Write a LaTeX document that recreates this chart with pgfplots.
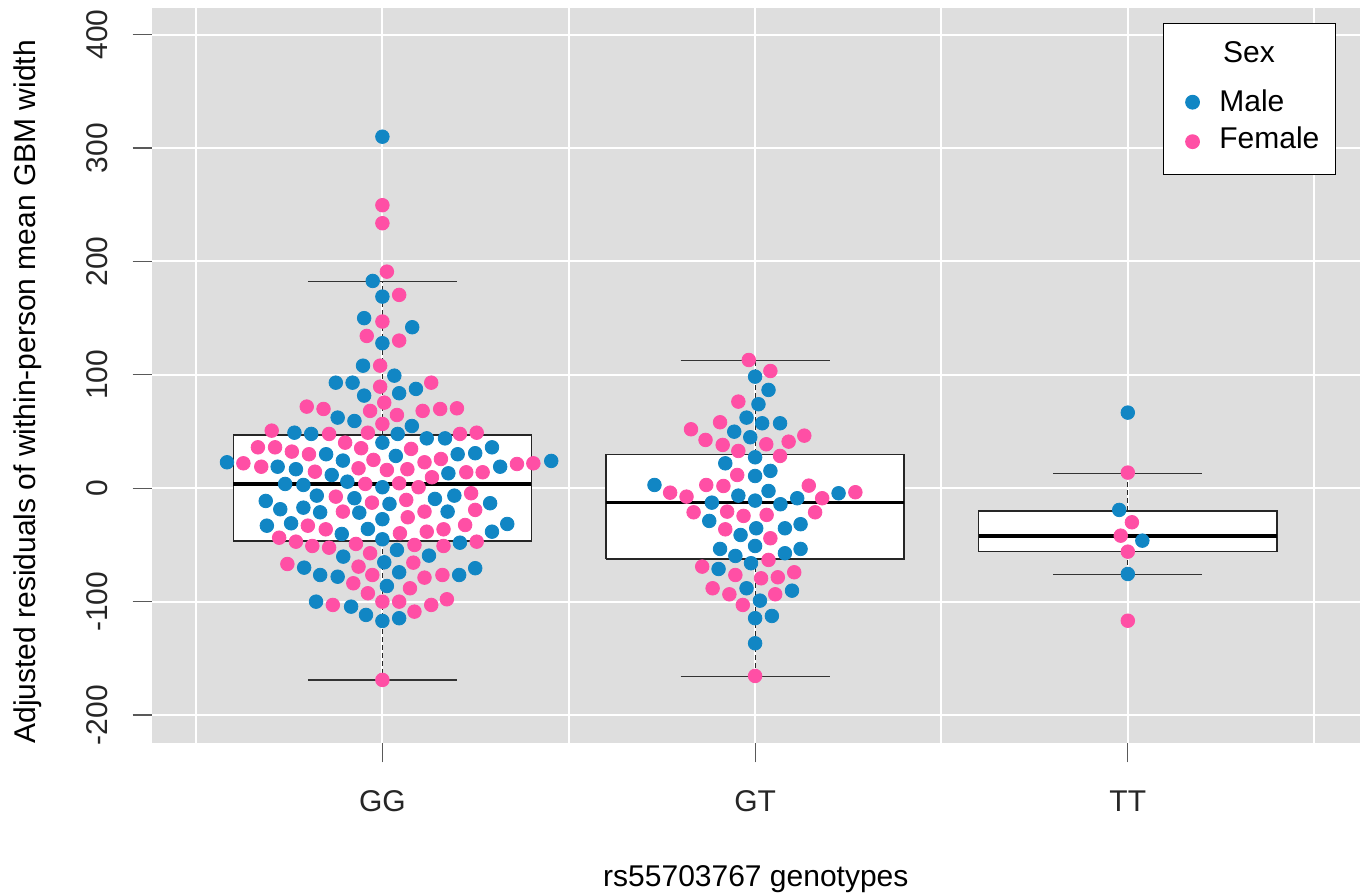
\documentclass[border=0pt]{standalone}
\usepackage{pgfplots}
\pgfplotsset{compat=1.18}
\usepackage{fontspec}
\setmainfont{Liberation Sans}

\definecolor{bggray}{RGB}{222,222,222}
\definecolor{male}{RGB}{17,134,196}
\definecolor{female}{RGB}{255,79,165}

% box plot parts, drawn from the summary values
\pgfplotsset{
  gbox/.style={draw=black!85, line width=0.7pt, fill=white, forget plot},
  gmed/.style={black, line width=1.6pt, forget plot},
  gwhisk/.style={black!85, line width=0.5pt, dash pattern=on 2.5pt off 1.5pt, forget plot},
  gcap/.style={black!80, line width=0.6pt, forget plot},
}

\begin{document}
\begin{tikzpicture}
\path[use as bounding box] (-75.85pt,-75.35pt) rectangle (607.65pt,371.65pt);
\begin{axis}[
  scale only axis,
  width=604.15pt, height=367.65pt,
  xmin=0.381, xmax=3.623,
  ymin=-224.9, ymax=423.5,
  axis background/.style={fill=bggray},
  axis line style={draw=none},
  xtick={1,2,3},
  xticklabels={GG,GT,TT},
  minor xtick={0.5,1.5,2.5,3.5},
  ytick={-200,-100,0,100,200,300,400},
  yticklabels={-200,-100,0,100,200,300,400},
  grid=both,
  major grid style={white, line width=1pt},
  minor grid style={white, line width=1pt},
  tick align=outside,
  tick pos=left,
  major tick length=9.5pt,
  minor tick length=0pt,
  tick style={black!65, line width=0.6pt},
  tick label style={font=\fontsize{15}{18}\selectfont, text=black!85},
  yticklabel style={rotate=90, anchor=base, yshift=12.5pt},
  xticklabel style={yshift=-10.5pt},
  xlabel={rs55703767 genotypes},
  every axis x label/.style={at={(axis description cs:0.5,0)}, anchor=center, yshift=-67.9pt,
    font=\fontsize{15}{18}\selectfont},
  ylabel={Adjusted residuals of within-person mean GBM width},
  every axis y label/.style={at={(axis description cs:-0.1024,0.478)}, rotate=90, anchor=center,
    font=\fontsize{15}{18}\selectfont},
  legend cell align=left,
  legend style={at={(rel axis cs:1,1)}, anchor=north east, xshift=-12pt, yshift=-7.65pt,
    draw=black, line width=0.6pt, fill=white, inner xsep=6pt, inner ysep=7pt,
    row sep=2pt, column sep=8pt, font=\fontsize{15}{18}\selectfont},
]

% GG
\addplot[gbox] coordinates {(0.6,-46.5) (1.4,-46.5) (1.4,47) (0.6,47) (0.6,-46.5)};
\addplot[gwhisk] coordinates {(1,47) (1,182.5)};
\addplot[gwhisk] coordinates {(1,-46.5) (1,-169)};
\addplot[gcap] coordinates {(0.8,182.5) (1.2,182.5)};
\addplot[gcap] coordinates {(0.8,-169) (1.2,-169)};
\addplot[gmed] coordinates {(0.6,3.8) (1.4,3.8)};
% GT
\addplot[gbox] coordinates {(1.6,-62.3) (2.4,-62.3) (2.4,30) (1.6,30) (1.6,-62.3)};
\addplot[gwhisk] coordinates {(2,30) (2,112.5)};
\addplot[gwhisk] coordinates {(2,-62.3) (2,-166)};
\addplot[gcap] coordinates {(1.8,112.5) (2.2,112.5)};
\addplot[gcap] coordinates {(1.8,-166) (2.2,-166)};
\addplot[gmed] coordinates {(1.6,-12.3) (2.4,-12.3)};
% TT
\addplot[gbox] coordinates {(2.6,-55.9) (3.4,-55.9) (3.4,-20) (2.6,-20) (2.6,-55.9)};
\addplot[gwhisk] coordinates {(3,-20) (3,12.9)};
\addplot[gwhisk] coordinates {(3,-55.9) (3,-75.8)};
\addplot[gcap] coordinates {(2.8,12.9) (3.2,12.9)};
\addplot[gcap] coordinates {(2.8,-75.8) (3.2,-75.8)};
\addplot[gmed] coordinates {(2.6,-42.1) (3.4,-42.1)};

\addlegendimage{empty legend}
\addlegendentry[text depth=7.5pt]{\hspace*{1.9pt}Sex}

% male points (x = genotype + swarm offset)
\addplot[only marks, mark=*, mark size=3.4pt, color=male] table {
x y
1.000 310
0.974 182.8
1.000 169
0.951 150
1.080 142
1.000 127.9
0.948 108.1
1.032 99.3
0.875 93.1
0.920 93.1
0.951 81.7
1.045 83.8
1.090 87.6
0.880 62.3
0.925 59.3
1.079 54.9
0.764 49
0.809 47.9
1.041 47.9
1.119 44
1.168 44
0.849 30
0.894 24.4
1.000 40.2
1.036 28.5
1.294 36.1
1.249 30.9
1.202 30
0.583 22.9
0.719 19
0.768 16.8
0.864 11.7
1.177 13.2
1.316 19
1.453 24.1
0.739 3.8
0.788 2.9
0.906 5.8
1.000 0.9
0.824 -6.5
0.925 -8.8
1.019 -13.8
1.141 -9.4
1.193 -6.5
0.687 -11.2
0.726 -18.5
0.788 -17.1
0.833 -21.2
0.938 -21.5
1.175 -20.6
1.289 -13.2
1.000 -27.3
0.690 -33
0.755 -30.9
0.891 -40.3
0.961 -35.9
1.000 -45
1.294 -38.3
1.335 -31.5
0.895 -60.3
1.039 -54.4
1.125 -59.4
1.208 -48
0.790 -70
0.833 -76.5
0.880 -78
1.005 -65.3
1.045 -74.1
1.206 -76.5
1.249 -70.5
1.012 -86.2
0.822 -100
0.916 -104.4
0.956 -111.7
1.000 -117
1.045 -114.6
2.000 98.4
2.036 86.7
2.009 74.1
1.977 62.3
2.019 57.3
2.067 57.3
1.944 49.9
1.987 45
2.000 27.3
1.920 22
2.000 10.8
2.041 15.3
1.730 2.9
1.955 -6.5
2.000 -10.9
2.036 -2.4
1.884 -12.7
2.068 -14.1
2.113 -8.8
2.224 -4.4
1.877 -28.8
1.961 -41.2
2.003 -35.3
2.080 -35.3
2.122 -31.7
1.906 -53.5
2.000 -50.9
1.947 -59.7
1.989 -66.1
2.080 -57.3
2.122 -53.5
1.902 -71.2
1.977 -88.2
2.099 -90.3
2.013 -99.1
2.000 -114.6
2.045 -112.6
2.000 -136.7
3.000 66.7
2.977 -19.1
3.039 -46.2
3.000 -75.6
};
\addlegendentry{Male}

% female points
\addplot[only marks, mark=*, mark size=3.4pt, color=female] table {
x y
1.000 249.6
1.000 233.7
1.012 191
1.045 170.5
1.000 147
0.958 134.3
1.045 130.2
0.994 108.1
0.994 89.6
1.131 93.1
1.005 75.5
0.797 72
0.842 69.9
0.967 68.2
1.039 64.6
1.108 68.2
1.155 69.9
1.200 70.5
1.000 56.7
0.703 50.8
0.857 47.9
0.961 49
1.208 47.9
1.253 49
0.900 40.2
0.666 36.1
0.712 36.1
0.757 32.3
0.803 30
0.943 35.3
1.077 34.7
0.976 25
1.157 25.8
1.113 22.9
0.627 22
0.675 19
0.819 14.6
0.936 17.6
1.012 16.1
1.067 16.8
1.133 9.7
1.225 14.1
1.269 14.1
1.361 21.4
1.405 22
0.954 3.8
1.045 4.4
1.097 0.9
0.875 -7.4
0.972 -12.7
1.064 -10.3
1.238 -4.4
0.894 -20.6
1.113 -20.6
1.249 -19.1
1.068 -25.6
0.800 -33
0.848 -36.2
1.047 -39.7
1.119 -38.3
1.164 -36.2
1.222 -32.4
0.723 -43.6
0.768 -47.1
0.812 -50.9
0.857 -52.4
0.929 -49.1
0.967 -57.3
1.086 -50
1.164 -50.9
1.253 -47.1
0.745 -66.8
0.936 -69.1
0.973 -76.5
1.083 -65.6
1.113 -78.8
1.161 -76.5
0.922 -83.8
1.074 -88.2
0.961 -92.6
0.867 -102.9
1.000 -100
1.045 -100
1.173 -97.9
1.131 -102.9
1.086 -108.8
1.000 -169
1.983 113.1
2.041 103.4
1.955 76.4
1.906 58.2
1.828 52
1.867 42.6
1.913 38.2
1.955 32.9
2.030 38.8
2.090 41.1
2.132 46.4
2.067 28.5
1.952 11.7
1.772 -3.9
1.816 -7.4
1.869 2.9
1.915 2
2.144 2.3
2.180 -8.8
2.269 -3.5
1.835 -21.2
1.925 -20.6
1.969 -24.4
2.031 -23.5
2.161 -21.2
1.920 -36.2
2.041 -44.1
2.036 -63.2
1.858 -69.1
1.947 -76.5
2.016 -79.4
2.061 -78.5
2.105 -74.1
1.886 -88.2
1.931 -93.5
2.054 -93.5
1.967 -102.9
2.000 -165.5
3.000 13.8
3.011 -30
2.981 -41.8
3.000 -55.9
3.000 -116.8
};
\addlegendentry[text depth=4.25pt]{Female}

\end{axis}
\end{tikzpicture}
\end{document}
